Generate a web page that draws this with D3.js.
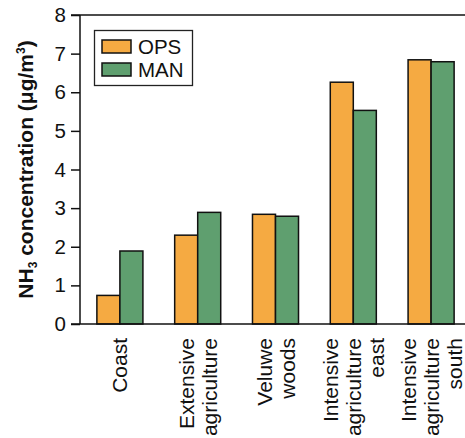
<!DOCTYPE html>
<html>
<head>
<meta charset="utf-8">
<script src="https://cdn.jsdelivr.net/npm/d3@7"></script>
<style>
  body { margin: 0; background: #fff; }
  svg { display: block; font-family: "Liberation Sans", Arial, sans-serif; }
</style>
</head>
<body>
<svg id="chart" width="465" height="438"></svg>
<script>
const categories = ["Coast", "Extensive agriculture", "Veluwe woods", "Intensive agriculture east", "Intensive agriculture south"];
const categoryLines = [["Coast"], ["Extensive", "agriculture"], ["Veluwe", "woods"], ["Intensive", "agriculture", "east"], ["Intensive", "agriculture", "south"]];
const seriesNames = ["OPS", "MAN"];
const opsValues = [0.74, 2.30, 2.84, 6.26, 6.84];
const manValues = [1.89, 2.89, 2.79, 5.53, 6.79];
const yTicks = [0, 1, 2, 3, 4, 5, 6, 7, 8];
const colors = ["#F5AA42", "#5F9F6F"];

const svg = d3.select("#chart");
const mLeft = 80, mTop = 15, mBottom = 324, mRight = 470;

const x = d3.scaleBand().domain(categories).range([mLeft + 1, mRight]).paddingInner(0).paddingOuter(0);
const x1 = d3.scaleBand().domain(seriesNames).range([0, x.bandwidth()]).paddingInner(0).paddingOuter(0.69);
const y = d3.scaleLinear().domain([0, 8]).range([mBottom, mTop]);

const values = [opsValues, manValues];

// bars
categories.forEach((c, i) => {
  seriesNames.forEach((s, j) => {
    svg.append("rect")
      .attr("x", x(c) + x1(s))
      .attr("y", y(values[j][i]))
      .attr("width", x1.bandwidth())
      .attr("height", y(0) - y(values[j][i]))
      .attr("fill", colors[j])
      .attr("stroke", "#111")
      .attr("stroke-width", 1.5);
  });
});

// y axis
const yAxis = d3.axisLeft(y).tickValues(yTicks).tickSize(9).tickPadding(5).tickFormat(d3.format("d"));
const gy = svg.append("g").attr("transform", `translate(${mLeft},0)`).call(yAxis);
gy.select(".domain").remove();
gy.selectAll(".tick line").attr("stroke", "#111").attr("stroke-width", 1.5);
gy.selectAll(".tick text").attr("font-size", 20.5).attr("fill", "#111").attr("font-family", "Liberation Sans, Arial, sans-serif");
svg.append("line").attr("x1", mLeft).attr("x2", mLeft).attr("y1", mTop).attr("y2", mBottom)
  .attr("stroke", "#111").attr("stroke-width", 1.5);
// top frame line and bottom axis line
svg.append("line").attr("x1", mLeft - 9).attr("x2", 465).attr("y1", y(8)).attr("y2", y(8))
  .attr("stroke", "#111").attr("stroke-width", 1.5);
svg.append("line").attr("x1", mLeft - 9).attr("x2", 465).attr("y1", y(0)).attr("y2", y(0))
  .attr("stroke", "#111").attr("stroke-width", 1.5);

// category labels (rotated)
const lineH = 23;
categories.forEach((c, i) => {
  const lines = categoryLines[i];
  const cx = x(c) + x.bandwidth() / 2;
  lines.forEach((ln, k) => {
    const bx = cx + (k - (lines.length - 1) / 2) * lineH + 7.5;
    svg.append("text")
      .attr("transform", `translate(${bx},338) rotate(-90)`)
      .attr("text-anchor", "end")
      .attr("font-size", 21)
      .attr("fill", "#111")
      .text(ln);
  });
});

// y label
const yl = svg.append("text")
  .attr("transform", `translate(33,${(mTop + mBottom) / 2}) rotate(-90)`)
  .attr("text-anchor", "middle")
  .attr("font-size", 21)
  .attr("font-weight", "bold")
  .attr("fill", "#111");
yl.append("tspan").text("NH");
yl.append("tspan").attr("font-size", 12).attr("dy", 4).text("3");
yl.append("tspan").attr("dy", -4).text(" concentration (μg/m");
yl.append("tspan").attr("font-size", 12).attr("dy", -8).text("3");
yl.append("tspan").attr("dy", 8).text(")");

// legend
const lg = svg.append("g");
lg.append("rect").attr("x", 94.5).attr("y", 30.5).attr("width", 98).attr("height", 55)
  .attr("fill", "#fff").attr("stroke", "#222").attr("stroke-width", 1.3);
seriesNames.forEach((s, j) => {
  lg.append("rect").attr("x", 102).attr("y", 40 + j * 23).attr("width", 29).attr("height", 13)
    .attr("fill", colors[j]).attr("stroke", "#111").attr("stroke-width", 1.5);
  lg.append("text").attr("x", 138).attr("y", 54 + j * 23)
    .attr("font-size", 20.5).attr("fill", "#111").text(s);
});
</script>
</body>
</html>
